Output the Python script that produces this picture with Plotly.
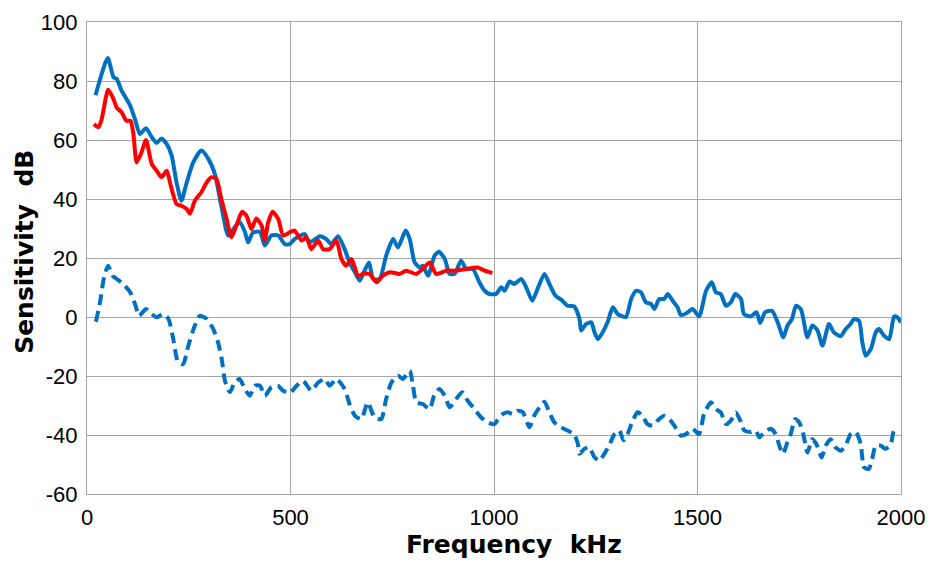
import plotly.graph_objects as go

# Blue solid curve
blue_f = [21, 51, 65, 73, 85, 105, 118, 130, 145, 159, 171, 183, 196, 208, 220, 232, 245, 261, 281, 298,
          314, 330, 347, 363, 375, 388, 396, 408, 425, 437, 453, 470, 486, 498, 510, 535, 547, 572, 588, 600,
          617, 633, 645, 658, 670, 682, 693, 703, 719, 735, 752, 764, 783, 793, 805, 817, 825, 838, 854, 865,
          879, 891, 903, 919, 932, 948, 964, 977, 989, 1005, 1018, 1026, 1038, 1050, 1067, 1079, 1094, 1107,
          1124, 1136, 1151, 1165, 1181, 1197, 1210, 1214, 1226, 1239, 1247, 1255, 1267, 1279, 1292, 1304,
          1324, 1337, 1349, 1361, 1373, 1386, 1394, 1406, 1418, 1427, 1439, 1451, 1459, 1472, 1488, 1504,
          1521, 1535, 1545, 1557, 1570, 1582, 1593, 1607, 1614, 1631, 1645, 1654, 1666, 1683, 1697, 1711,
          1721, 1732, 1742, 1754, 1770, 1782, 1795, 1807, 1823, 1835, 1852, 1864, 1876, 1884, 1897, 1905,
          1913, 1926, 1938, 1946, 1958, 1971, 1983, 1991, 2000]
blue_y = [75.2, 87.8, 81.3, 80.7, 76.7, 72, 67, 62, 64, 61, 59, 60.5, 58.6, 54.7, 45.6, 39.4, 45.6, 52.4, 56.4, 53.6,
          48.5, 37.7, 27.6, 30.4, 32.2, 28.8, 25.3, 28.7, 28.8, 24.2, 27.6, 27.6, 24.7, 24.7, 26.4, 28.1, 25.3, 27.4, 26.4, 24.7,
          27.4, 23, 18.5, 15.2, 12.3, 15.7, 18.5, 12.9, 12.9, 20.8, 26.4, 23.6, 29.3, 26.4, 18.5, 16.8, 17.4, 14, 20.8, 22.1,
          19.7, 14.6, 14.6, 19.1, 16.3, 16.3, 11.8, 8.9, 7.8, 7.8, 10.1, 8.9, 12, 11.2, 12.9, 10.1, 5.5, 9.5,
          14.6, 11.2, 7.2, 5.9, 3.8, 3.6, -0.6, -4.6, -2.4, -1.8, -5.2, -7.5, -5.2, -1.8, 3.3, 1,
          0, 6.1, 8.9, 8.4, 5, 4.4, 2.7, 6.1, 6.1, 7.8, 5.5, 3.3, 0.7, 1.2, 2.7, 0.2,
          8.9, 11.8, 8.4, 7.8, 3.8, 5, 7.8, 6.1, 1, 0.2, 1.6, -2, 1.6, 2.1, -1.8, -6.9,
          -2.9, -0.7, 3.8, 2.7, -6.9, -2.9, -4.6, -9.7, -2.4, -5.2, -6.5, -4.1, -2.4, -0.7, -1.3, -8.6,
          -13.1, -10.8, -5.2, -4.1, -6.3, -7.5, 0.2, -0.1, -1.8]

# Red solid curve
red_f = [17, 28, 36, 52, 65, 73, 85, 97, 107, 114, 122, 134, 145, 159, 171, 183, 196, 205, 220, 232,
         245, 253, 265, 281, 294, 306, 318, 330, 343, 355, 367, 381, 392, 404, 416, 429, 437, 445, 456, 470,
         482, 498, 510, 527, 539, 551, 568, 580, 596, 613, 625, 637, 650, 666, 678, 694, 711, 727, 744, 768,
         784, 809, 825, 842, 858, 883, 907, 932, 960, 977, 996]
red_y = [65.4, 64.3, 67, 77, 73.9, 71, 69.4, 66.5, 66.5, 62, 52.4, 55.8, 60, 51.9, 49.6, 47.4, 49.6, 45, 38.3, 37.7,
         36.6, 35, 39.4, 42.3, 45.6, 47.4, 46.8, 40, 33.2, 27, 31, 35.7, 34.3, 29.8, 33.4, 31, 25.9, 32, 35.7, 33.2,
         27.6, 28.7, 29.3, 25.9, 27, 23, 25.9, 23, 23, 25.9, 19.7, 17.4, 19.7, 14, 14.6, 14.6, 11.8, 14, 15.2, 14.6,
         15.7, 14.6, 16.3, 18.5, 14.6, 15.7, 15.7, 16.3, 16.8, 15.7, 14.9]

# Blue dashed curve
dash_f = [22, 32, 42, 52, 63, 73, 89, 106, 118, 128, 145, 159, 171, 187, 200, 212, 224, 236, 249, 265,
          277, 294, 310, 322, 331, 339, 351, 363, 375, 388, 400, 412, 425, 437, 453, 469, 482, 498, 515, 531,
          551, 568, 584, 596, 613, 633, 645, 658, 674, 690, 706, 723, 735, 748, 764, 776, 793, 801, 809, 825,
          842, 854, 866, 879, 891, 907, 922, 935, 952, 968, 985, 1001, 1013, 1022, 1034, 1046, 1059, 1071,
          1087, 1099, 1112, 1124, 1136, 1148, 1165, 1181, 1197, 1206, 1210, 1222, 1234, 1247, 1259, 1271,
          1283, 1296, 1308, 1318, 1328, 1341, 1353, 1365, 1377, 1390, 1402, 1418, 1431, 1443, 1459, 1472,
          1488, 1504, 1516, 1533, 1545, 1557, 1570, 1582, 1594, 1607, 1615, 1631, 1643, 1652, 1664, 1680,
          1692, 1701, 1710, 1721, 1729, 1740, 1750, 1760, 1770, 1782, 1792, 1805, 1815, 1827, 1839, 1852,
          1864, 1876, 1889, 1901, 1909, 1921, 1929, 1938, 1950, 1962, 1975, 1983, 1995]
dash_y = [-1.6, 5, 13.5, 17.4, 14, 12.9, 11.2, 8.4, 4.4, 0.4, 2.7, 1, -0.1, 1, -0.6, -7.5, -15.4, -16, -9.7, -2.9,
          0.4, -0.6, -4, -8.6, -14.3, -21.6, -25.5, -22.1, -21, -24.4, -26.7, -23.3, -23.3, -26.7, -23.8, -23.3, -25, -25.8, -23.3, -21.6,
          -25, -22.2, -21, -23.3, -21, -24.4, -29.5, -33.4, -34.6, -28.9, -34, -34.6, -27.8, -22.2, -19.9, -21, -18.2, -23.3, -28.9, -29.5,
          -31.2, -26.1, -24.4, -26.7, -30.6, -27.8, -25.5, -28.3, -31.2, -34, -35.7, -36.3, -34, -32.9, -32.3, -32.9, -31.8, -32.3,
          -37.4, -33.4, -30.6, -28.7, -32.3, -35.7, -37.4, -38.5, -39.7, -43, -46.4, -44.7, -44.2, -47.6, -48.7, -46.4,
          -43.6, -39.7, -38.5, -41.8, -39.7, -35.1, -32.3, -33.5, -36.3, -36.8, -35.1, -33.5, -34.6, -36.8, -40.2, -39.7,
          -37.9, -39.7, -32.9, -28.9, -31.2, -32.3, -36.3, -35.1, -32.3, -35.7, -38.5, -39, -38.5, -40.8, -39, -37.9,
          -39.7, -43.6, -46.4, -42.4, -39.7, -34.6, -35.7, -39.7, -45.9, -41.4, -43, -47.6, -43.6, -41.4, -44.2, -45.3,
          -43.6, -39.7, -39, -43, -50.9, -51.5, -48.1, -43.6, -43.6, -44.7, -43, -38.5, -39]

x_ticks = [0, 500, 1000, 1500, 2000]
y_ticks = [-60, -40, -20, 0, 20, 40, 60, 80, 100]
x_title = "Frequency  kHz"
y_title = "Sensitivity  dB"

BLUE = "#0070C0"
RED = "#FF0000"

fig = go.Figure()
fig.add_trace(go.Scatter(x=dash_f, y=dash_y, mode="lines",
                         line=dict(color=BLUE, width=4, dash="11px,6px", shape="spline", smoothing=0.6),
                         showlegend=False))
fig.add_trace(go.Scatter(x=blue_f, y=blue_y, mode="lines",
                         line=dict(color=BLUE, width=4, shape="spline", smoothing=0.6),
                         showlegend=False))
fig.add_trace(go.Scatter(x=red_f, y=red_y, mode="lines",
                         line=dict(color=RED, width=4, shape="spline", smoothing=0.6),
                         showlegend=False))

tick_font = dict(family="Liberation Sans, Arial", size=22, color="#000000")
title_font = dict(family="DejaVu Sans, Arial", size=25, color="#000000")

fig.update_layout(
    width=931, height=562,
    margin=dict(l=87, r=30, t=22, b=68),
    paper_bgcolor="white", plot_bgcolor="white",
    xaxis=dict(range=[0, 2000], tickvals=x_ticks, ticktext=[str(v) for v in x_ticks],
               showgrid=True, gridcolor="#A6A6A6", gridwidth=1.3,
               showline=True, linecolor="#A6A6A6", linewidth=1.3, mirror=True,
               zeroline=False, ticks="", tickfont=tick_font, automargin=False,
               ticklabelstandoff=3),
    yaxis=dict(range=[-60, 100], tickvals=y_ticks, ticktext=[str(v) for v in y_ticks],
               showgrid=True, gridcolor="#A6A6A6", gridwidth=1.3,
               showline=True, linecolor="#A6A6A6", linewidth=1.3, mirror=True,
               zeroline=False, ticks="", tickfont=tick_font, automargin=False,
               ticklabelstandoff=4),
    annotations=[
        dict(text="<b>" + x_title + "</b>", xref="paper", yref="paper",
             x=0.5246, y=-0.108, xanchor="center", yanchor="middle",
             showarrow=False, font=title_font),
        dict(text="<b>" + y_title + "</b>", xref="paper", yref="paper",
             x=-0.0762, y=0.513, xanchor="center", yanchor="middle",
             textangle=-90, showarrow=False, font=title_font),
    ],
)

fig.write_html("out.html")
